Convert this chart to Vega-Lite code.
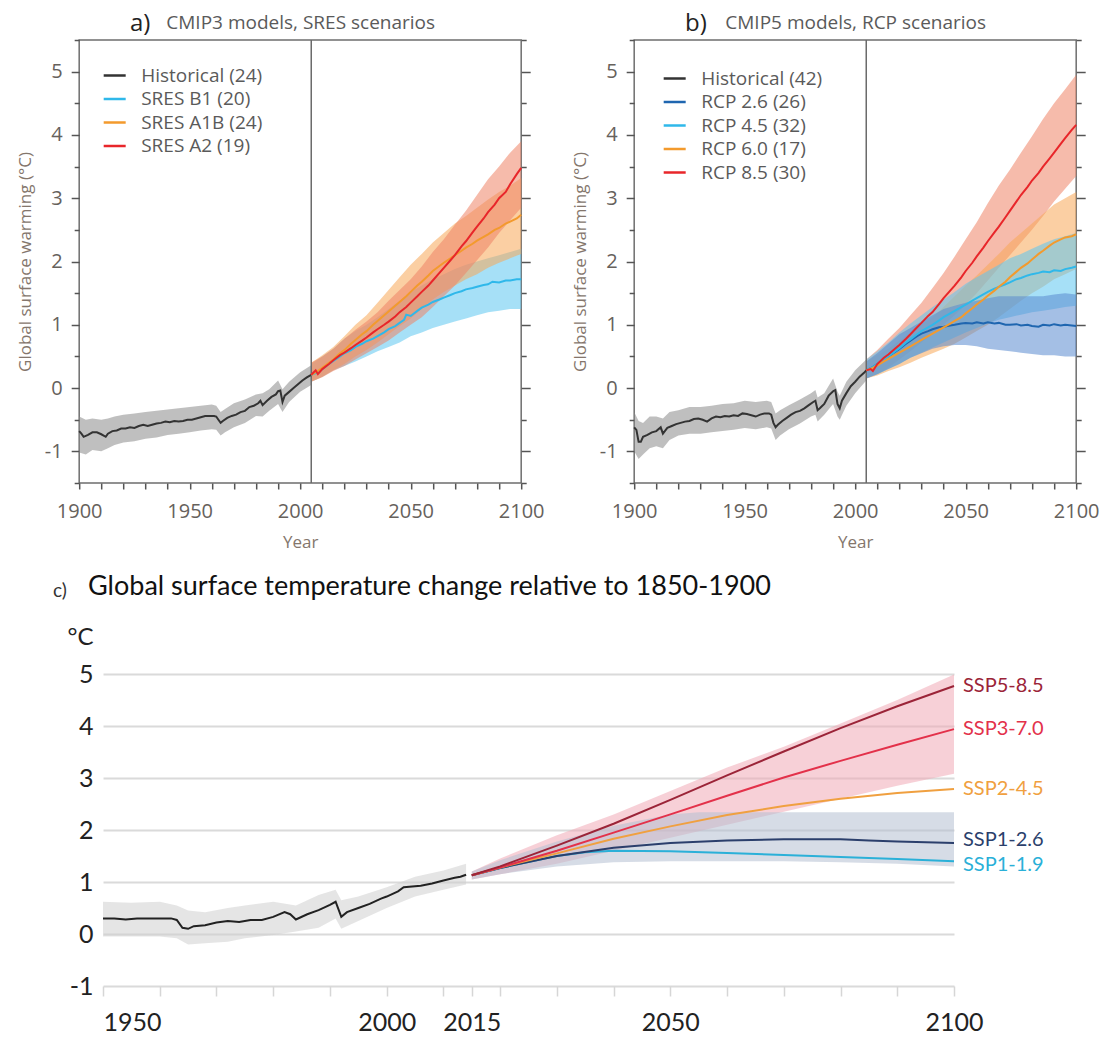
{
"$schema": "https://vega.github.io/schema/vega-lite/v6.json",
"padding": {"left": 15, "top": 10, "right": 0, "bottom": 0},
"background": "white",
"config": {"font": "Open Sans", "view": {"stroke": null}},
"resolve": {"scale": {"fill": "independent", "stroke": "independent", "color": "independent"}},
"datasets": {
"a_bands": [
{"series":"Historical (24)","year":1900,"lo":-1.02,"hi":-0.45},{"series":"Historical (24)","year":1903,"lo":-1.05,"hi":-0.5},{"series":"Historical (24)","year":1906,"lo":-0.98,"hi":-0.48},{"series":"Historical (24)","year":1910,"lo":-1.0,"hi":-0.5},{"series":"Historical (24)","year":1913,"lo":-0.95,"hi":-0.48},{"series":"Historical (24)","year":1916,"lo":-0.9,"hi":-0.45},{"series":"Historical (24)","year":1920,"lo":-0.86,"hi":-0.42},{"series":"Historical (24)","year":1925,"lo":-0.84,"hi":-0.4},{"series":"Historical (24)","year":1930,"lo":-0.8,"hi":-0.38},{"series":"Historical (24)","year":1935,"lo":-0.78,"hi":-0.36},{"series":"Historical (24)","year":1940,"lo":-0.74,"hi":-0.34},{"series":"Historical (24)","year":1945,"lo":-0.72,"hi":-0.32},{"series":"Historical (24)","year":1950,"lo":-0.7,"hi":-0.3},{"series":"Historical (24)","year":1955,"lo":-0.67,"hi":-0.28},{"series":"Historical (24)","year":1960,"lo":-0.65,"hi":-0.26},{"series":"Historical (24)","year":1962,"lo":-0.66,"hi":-0.28},{"series":"Historical (24)","year":1964,"lo":-0.75,"hi":-0.38},{"series":"Historical (24)","year":1966,"lo":-0.7,"hi":-0.33},{"series":"Historical (24)","year":1970,"lo":-0.62,"hi":-0.24},{"series":"Historical (24)","year":1975,"lo":-0.55,"hi":-0.18},{"series":"Historical (24)","year":1980,"lo":-0.44,"hi":-0.1},{"series":"Historical (24)","year":1983,"lo":-0.45,"hi":-0.08},{"series":"Historical (24)","year":1986,"lo":-0.36,"hi":-0.02},{"series":"Historical (24)","year":1990,"lo":-0.25,"hi":0.12},{"series":"Historical (24)","year":1992,"lo":-0.38,"hi":-0.02},{"series":"Historical (24)","year":1995,"lo":-0.22,"hi":0.1},{"series":"Historical (24)","year":2000,"lo":-0.06,"hi":0.25},{"series":"Historical (24)","year":2005,"lo":0.05,"hi":0.36},
{"series":"SRES B1 (20)","year":2005,"lo":0.1,"hi":0.38},{"series":"SRES B1 (20)","year":2010,"lo":0.18,"hi":0.5},{"series":"SRES B1 (20)","year":2015,"lo":0.28,"hi":0.62},{"series":"SRES B1 (20)","year":2020,"lo":0.35,"hi":0.78},{"series":"SRES B1 (20)","year":2025,"lo":0.42,"hi":0.9},{"series":"SRES B1 (20)","year":2030,"lo":0.5,"hi":1.0},{"series":"SRES B1 (20)","year":2035,"lo":0.58,"hi":1.12},{"series":"SRES B1 (20)","year":2040,"lo":0.65,"hi":1.25},{"series":"SRES B1 (20)","year":2045,"lo":0.72,"hi":1.38},{"series":"SRES B1 (20)","year":2050,"lo":0.82,"hi":1.52},{"series":"SRES B1 (20)","year":2055,"lo":0.88,"hi":1.62},{"series":"SRES B1 (20)","year":2060,"lo":0.95,"hi":1.72},{"series":"SRES B1 (20)","year":2065,"lo":1.0,"hi":1.8},{"series":"SRES B1 (20)","year":2070,"lo":1.05,"hi":1.88},{"series":"SRES B1 (20)","year":2075,"lo":1.1,"hi":1.95},{"series":"SRES B1 (20)","year":2080,"lo":1.15,"hi":2.0},{"series":"SRES B1 (20)","year":2085,"lo":1.2,"hi":2.05},{"series":"SRES B1 (20)","year":2090,"lo":1.22,"hi":2.1},{"series":"SRES B1 (20)","year":2095,"lo":1.25,"hi":2.15},{"series":"SRES B1 (20)","year":2100,"lo":1.25,"hi":2.2},
{"series":"SRES A1B (24)","year":2005,"lo":0.1,"hi":0.4},{"series":"SRES A1B (24)","year":2010,"lo":0.18,"hi":0.52},{"series":"SRES A1B (24)","year":2015,"lo":0.28,"hi":0.65},{"series":"SRES A1B (24)","year":2020,"lo":0.38,"hi":0.82},{"series":"SRES A1B (24)","year":2025,"lo":0.5,"hi":1.0},{"series":"SRES A1B (24)","year":2030,"lo":0.6,"hi":1.15},{"series":"SRES A1B (24)","year":2035,"lo":0.72,"hi":1.35},{"series":"SRES A1B (24)","year":2040,"lo":0.85,"hi":1.55},{"series":"SRES A1B (24)","year":2045,"lo":0.98,"hi":1.75},{"series":"SRES A1B (24)","year":2050,"lo":1.1,"hi":1.95},{"series":"SRES A1B (24)","year":2055,"lo":1.25,"hi":2.12},{"series":"SRES A1B (24)","year":2060,"lo":1.4,"hi":2.3},{"series":"SRES A1B (24)","year":2065,"lo":1.52,"hi":2.45},{"series":"SRES A1B (24)","year":2070,"lo":1.62,"hi":2.6},{"series":"SRES A1B (24)","year":2075,"lo":1.72,"hi":2.72},{"series":"SRES A1B (24)","year":2080,"lo":1.8,"hi":2.85},{"series":"SRES A1B (24)","year":2085,"lo":1.9,"hi":2.98},{"series":"SRES A1B (24)","year":2090,"lo":1.98,"hi":3.1},{"series":"SRES A1B (24)","year":2095,"lo":2.05,"hi":3.2},{"series":"SRES A1B (24)","year":2100,"lo":2.12,"hi":3.32},
{"series":"SRES A2 (19)","year":2005,"lo":0.1,"hi":0.4},{"series":"SRES A2 (19)","year":2010,"lo":0.17,"hi":0.5},{"series":"SRES A2 (19)","year":2015,"lo":0.27,"hi":0.62},{"series":"SRES A2 (19)","year":2020,"lo":0.35,"hi":0.78},{"series":"SRES A2 (19)","year":2025,"lo":0.45,"hi":0.92},{"series":"SRES A2 (19)","year":2030,"lo":0.55,"hi":1.05},{"series":"SRES A2 (19)","year":2035,"lo":0.65,"hi":1.2},{"series":"SRES A2 (19)","year":2040,"lo":0.75,"hi":1.38},{"series":"SRES A2 (19)","year":2045,"lo":0.88,"hi":1.55},{"series":"SRES A2 (19)","year":2050,"lo":1.0,"hi":1.72},{"series":"SRES A2 (19)","year":2055,"lo":1.12,"hi":1.92},{"series":"SRES A2 (19)","year":2060,"lo":1.28,"hi":2.15},{"series":"SRES A2 (19)","year":2065,"lo":1.45,"hi":2.35},{"series":"SRES A2 (19)","year":2070,"lo":1.62,"hi":2.58},{"series":"SRES A2 (19)","year":2075,"lo":1.82,"hi":2.8},{"series":"SRES A2 (19)","year":2080,"lo":2.02,"hi":3.05},{"series":"SRES A2 (19)","year":2085,"lo":2.22,"hi":3.3},{"series":"SRES A2 (19)","year":2090,"lo":2.45,"hi":3.5},{"series":"SRES A2 (19)","year":2095,"lo":2.65,"hi":3.72},{"series":"SRES A2 (19)","year":2100,"lo":2.85,"hi":3.9}
],
"a_lines": [
{"series":"Historical (24)","year":1900,"value":-0.68},{"series":"Historical (24)","year":1901,"value":-0.72},{"series":"Historical (24)","year":1902,"value":-0.77},{"series":"Historical (24)","year":1904,"value":-0.74},{"series":"Historical (24)","year":1906,"value":-0.7},{"series":"Historical (24)","year":1908,"value":-0.7},{"series":"Historical (24)","year":1910,"value":-0.73},{"series":"Historical (24)","year":1912,"value":-0.77},{"series":"Historical (24)","year":1913,"value":-0.72},{"series":"Historical (24)","year":1915,"value":-0.68},{"series":"Historical (24)","year":1917,"value":-0.67},{"series":"Historical (24)","year":1919,"value":-0.64},{"series":"Historical (24)","year":1921,"value":-0.64},{"series":"Historical (24)","year":1923,"value":-0.62},{"series":"Historical (24)","year":1925,"value":-0.63},{"series":"Historical (24)","year":1927,"value":-0.6},{"series":"Historical (24)","year":1929,"value":-0.58},{"series":"Historical (24)","year":1931,"value":-0.6},{"series":"Historical (24)","year":1933,"value":-0.58},{"series":"Historical (24)","year":1935,"value":-0.56},{"series":"Historical (24)","year":1937,"value":-0.55},{"series":"Historical (24)","year":1939,"value":-0.53},{"series":"Historical (24)","year":1941,"value":-0.54},{"series":"Historical (24)","year":1943,"value":-0.52},{"series":"Historical (24)","year":1945,"value":-0.53},{"series":"Historical (24)","year":1947,"value":-0.52},{"series":"Historical (24)","year":1949,"value":-0.5},{"series":"Historical (24)","year":1951,"value":-0.5},{"series":"Historical (24)","year":1953,"value":-0.48},{"series":"Historical (24)","year":1955,"value":-0.46},{"series":"Historical (24)","year":1957,"value":-0.44},{"series":"Historical (24)","year":1959,"value":-0.44},{"series":"Historical (24)","year":1961,"value":-0.44},{"series":"Historical (24)","year":1962,"value":-0.45},{"series":"Historical (24)","year":1963,"value":-0.5},{"series":"Historical (24)","year":1964,"value":-0.55},{"series":"Historical (24)","year":1965,"value":-0.52},{"series":"Historical (24)","year":1967,"value":-0.47},{"series":"Historical (24)","year":1969,"value":-0.44},{"series":"Historical (24)","year":1971,"value":-0.42},{"series":"Historical (24)","year":1973,"value":-0.38},{"series":"Historical (24)","year":1975,"value":-0.36},{"series":"Historical (24)","year":1977,"value":-0.3},{"series":"Historical (24)","year":1979,"value":-0.28},{"series":"Historical (24)","year":1981,"value":-0.24},{"series":"Historical (24)","year":1982,"value":-0.2},{"series":"Historical (24)","year":1983,"value":-0.27},{"series":"Historical (24)","year":1985,"value":-0.2},{"series":"Historical (24)","year":1987,"value":-0.14},{"series":"Historical (24)","year":1989,"value":-0.1},{"series":"Historical (24)","year":1990,"value":-0.05},{"series":"Historical (24)","year":1991,"value":-0.04},{"series":"Historical (24)","year":1992,"value":-0.22},{"series":"Historical (24)","year":1993,"value":-0.12},{"series":"Historical (24)","year":1995,"value":-0.06},{"series":"Historical (24)","year":1997,"value":0.0},{"series":"Historical (24)","year":1999,"value":0.06},{"series":"Historical (24)","year":2001,"value":0.12},{"series":"Historical (24)","year":2003,"value":0.17},{"series":"Historical (24)","year":2005,"value":0.21},
{"series":"SRES B1 (20)","year":2005,"value":0.21},{"series":"SRES B1 (20)","year":2008,"value":0.25},{"series":"SRES B1 (20)","year":2010,"value":0.3},{"series":"SRES B1 (20)","year":2013,"value":0.38},{"series":"SRES B1 (20)","year":2015,"value":0.43},{"series":"SRES B1 (20)","year":2018,"value":0.5},{"series":"SRES B1 (20)","year":2020,"value":0.55},{"series":"SRES B1 (20)","year":2023,"value":0.6},{"series":"SRES B1 (20)","year":2025,"value":0.65},{"series":"SRES B1 (20)","year":2028,"value":0.7},{"series":"SRES B1 (20)","year":2030,"value":0.74},{"series":"SRES B1 (20)","year":2033,"value":0.78},{"series":"SRES B1 (20)","year":2035,"value":0.82},{"series":"SRES B1 (20)","year":2038,"value":0.88},{"series":"SRES B1 (20)","year":2040,"value":0.93},{"series":"SRES B1 (20)","year":2043,"value":0.98},{"series":"SRES B1 (20)","year":2045,"value":1.03},{"series":"SRES B1 (20)","year":2047,"value":1.08},{"series":"SRES B1 (20)","year":2048,"value":1.16},{"series":"SRES B1 (20)","year":2050,"value":1.14},{"series":"SRES B1 (20)","year":2053,"value":1.22},{"series":"SRES B1 (20)","year":2055,"value":1.27},{"series":"SRES B1 (20)","year":2058,"value":1.32},{"series":"SRES B1 (20)","year":2060,"value":1.36},{"series":"SRES B1 (20)","year":2063,"value":1.4},{"series":"SRES B1 (20)","year":2065,"value":1.43},{"series":"SRES B1 (20)","year":2068,"value":1.47},{"series":"SRES B1 (20)","year":2070,"value":1.5},{"series":"SRES B1 (20)","year":2073,"value":1.53},{"series":"SRES B1 (20)","year":2075,"value":1.56},{"series":"SRES B1 (20)","year":2078,"value":1.58},{"series":"SRES B1 (20)","year":2080,"value":1.6},{"series":"SRES B1 (20)","year":2083,"value":1.63},{"series":"SRES B1 (20)","year":2085,"value":1.64},{"series":"SRES B1 (20)","year":2087,"value":1.68},{"series":"SRES B1 (20)","year":2090,"value":1.67},{"series":"SRES B1 (20)","year":2093,"value":1.7},{"series":"SRES B1 (20)","year":2095,"value":1.7},{"series":"SRES B1 (20)","year":2098,"value":1.72},{"series":"SRES B1 (20)","year":2100,"value":1.72},
{"series":"SRES A1B (24)","year":2005,"value":0.21},{"series":"SRES A1B (24)","year":2008,"value":0.27},{"series":"SRES A1B (24)","year":2010,"value":0.32},{"series":"SRES A1B (24)","year":2013,"value":0.4},{"series":"SRES A1B (24)","year":2015,"value":0.45},{"series":"SRES A1B (24)","year":2018,"value":0.55},{"series":"SRES A1B (24)","year":2020,"value":0.6},{"series":"SRES A1B (24)","year":2023,"value":0.7},{"series":"SRES A1B (24)","year":2025,"value":0.76},{"series":"SRES A1B (24)","year":2028,"value":0.85},{"series":"SRES A1B (24)","year":2030,"value":0.9},{"series":"SRES A1B (24)","year":2033,"value":1.0},{"series":"SRES A1B (24)","year":2035,"value":1.06},{"series":"SRES A1B (24)","year":2038,"value":1.15},{"series":"SRES A1B (24)","year":2040,"value":1.21},{"series":"SRES A1B (24)","year":2043,"value":1.3},{"series":"SRES A1B (24)","year":2045,"value":1.36},{"series":"SRES A1B (24)","year":2048,"value":1.45},{"series":"SRES A1B (24)","year":2050,"value":1.52},{"series":"SRES A1B (24)","year":2053,"value":1.62},{"series":"SRES A1B (24)","year":2055,"value":1.68},{"series":"SRES A1B (24)","year":2058,"value":1.78},{"series":"SRES A1B (24)","year":2060,"value":1.85},{"series":"SRES A1B (24)","year":2063,"value":1.93},{"series":"SRES A1B (24)","year":2065,"value":1.98},{"series":"SRES A1B (24)","year":2068,"value":2.05},{"series":"SRES A1B (24)","year":2070,"value":2.1},{"series":"SRES A1B (24)","year":2073,"value":2.17},{"series":"SRES A1B (24)","year":2075,"value":2.22},{"series":"SRES A1B (24)","year":2078,"value":2.28},{"series":"SRES A1B (24)","year":2080,"value":2.33},{"series":"SRES A1B (24)","year":2083,"value":2.39},{"series":"SRES A1B (24)","year":2085,"value":2.43},{"series":"SRES A1B (24)","year":2088,"value":2.5},{"series":"SRES A1B (24)","year":2090,"value":2.53},{"series":"SRES A1B (24)","year":2093,"value":2.6},{"series":"SRES A1B (24)","year":2095,"value":2.63},{"series":"SRES A1B (24)","year":2098,"value":2.68},{"series":"SRES A1B (24)","year":2100,"value":2.74},
{"series":"SRES A2 (19)","year":2005,"value":0.21},{"series":"SRES A2 (19)","year":2007,"value":0.28},{"series":"SRES A2 (19)","year":2008,"value":0.22},{"series":"SRES A2 (19)","year":2010,"value":0.3},{"series":"SRES A2 (19)","year":2013,"value":0.38},{"series":"SRES A2 (19)","year":2015,"value":0.44},{"series":"SRES A2 (19)","year":2018,"value":0.52},{"series":"SRES A2 (19)","year":2020,"value":0.56},{"series":"SRES A2 (19)","year":2023,"value":0.63},{"series":"SRES A2 (19)","year":2025,"value":0.68},{"series":"SRES A2 (19)","year":2028,"value":0.75},{"series":"SRES A2 (19)","year":2030,"value":0.8},{"series":"SRES A2 (19)","year":2033,"value":0.88},{"series":"SRES A2 (19)","year":2035,"value":0.93},{"series":"SRES A2 (19)","year":2038,"value":1.0},{"series":"SRES A2 (19)","year":2040,"value":1.05},{"series":"SRES A2 (19)","year":2043,"value":1.13},{"series":"SRES A2 (19)","year":2045,"value":1.2},{"series":"SRES A2 (19)","year":2048,"value":1.28},{"series":"SRES A2 (19)","year":2050,"value":1.35},{"series":"SRES A2 (19)","year":2053,"value":1.45},{"series":"SRES A2 (19)","year":2055,"value":1.52},{"series":"SRES A2 (19)","year":2058,"value":1.62},{"series":"SRES A2 (19)","year":2060,"value":1.7},{"series":"SRES A2 (19)","year":2063,"value":1.82},{"series":"SRES A2 (19)","year":2065,"value":1.9},{"series":"SRES A2 (19)","year":2068,"value":2.02},{"series":"SRES A2 (19)","year":2070,"value":2.1},{"series":"SRES A2 (19)","year":2073,"value":2.24},{"series":"SRES A2 (19)","year":2075,"value":2.32},{"series":"SRES A2 (19)","year":2078,"value":2.46},{"series":"SRES A2 (19)","year":2080,"value":2.55},{"series":"SRES A2 (19)","year":2083,"value":2.68},{"series":"SRES A2 (19)","year":2085,"value":2.78},{"series":"SRES A2 (19)","year":2088,"value":2.9},{"series":"SRES A2 (19)","year":2090,"value":3.0},{"series":"SRES A2 (19)","year":2093,"value":3.1},{"series":"SRES A2 (19)","year":2095,"value":3.22},{"series":"SRES A2 (19)","year":2098,"value":3.38},{"series":"SRES A2 (19)","year":2100,"value":3.48}
],
"b_bands": [
{"series":"Historical (42)","year":1900,"lo":-1.0,"hi":-0.38},{"series":"Historical (42)","year":1902,"lo":-1.12,"hi":-0.52},{"series":"Historical (42)","year":1904,"lo":-1.05,"hi":-0.55},{"series":"Historical (42)","year":1907,"lo":-0.95,"hi":-0.45},{"series":"Historical (42)","year":1910,"lo":-0.92,"hi":-0.45},{"series":"Historical (42)","year":1913,"lo":-0.95,"hi":-0.48},{"series":"Historical (42)","year":1916,"lo":-0.82,"hi":-0.38},{"series":"Historical (42)","year":1920,"lo":-0.75,"hi":-0.35},{"series":"Historical (42)","year":1925,"lo":-0.72,"hi":-0.3},{"series":"Historical (42)","year":1930,"lo":-0.72,"hi":-0.3},{"series":"Historical (42)","year":1935,"lo":-0.7,"hi":-0.28},{"series":"Historical (42)","year":1940,"lo":-0.68,"hi":-0.25},{"series":"Historical (42)","year":1945,"lo":-0.66,"hi":-0.24},{"series":"Historical (42)","year":1950,"lo":-0.63,"hi":-0.2},{"series":"Historical (42)","year":1955,"lo":-0.65,"hi":-0.22},{"series":"Historical (42)","year":1960,"lo":-0.62,"hi":-0.2},{"series":"Historical (42)","year":1962,"lo":-0.64,"hi":-0.22},{"series":"Historical (42)","year":1964,"lo":-0.82,"hi":-0.4},{"series":"Historical (42)","year":1966,"lo":-0.75,"hi":-0.35},{"series":"Historical (42)","year":1970,"lo":-0.65,"hi":-0.27},{"series":"Historical (42)","year":1975,"lo":-0.56,"hi":-0.18},{"series":"Historical (42)","year":1980,"lo":-0.45,"hi":-0.08},{"series":"Historical (42)","year":1982,"lo":-0.42,"hi":-0.03},{"series":"Historical (42)","year":1983,"lo":-0.53,"hi":-0.15},{"series":"Historical (42)","year":1986,"lo":-0.42,"hi":-0.08},{"series":"Historical (42)","year":1990,"lo":-0.25,"hi":0.15},{"series":"Historical (42)","year":1992,"lo":-0.45,"hi":-0.06},{"series":"Historical (42)","year":1993,"lo":-0.5,"hi":-0.12},{"series":"Historical (42)","year":1996,"lo":-0.28,"hi":0.1},{"series":"Historical (42)","year":2000,"lo":-0.08,"hi":0.28},{"series":"Historical (42)","year":2005,"lo":0.12,"hi":0.45},
{"series":"RCP 8.5 (30)","year":2005,"lo":0.15,"hi":0.45},{"series":"RCP 8.5 (30)","year":2010,"lo":0.22,"hi":0.6},{"series":"RCP 8.5 (30)","year":2015,"lo":0.32,"hi":0.78},{"series":"RCP 8.5 (30)","year":2020,"lo":0.45,"hi":0.95},{"series":"RCP 8.5 (30)","year":2025,"lo":0.58,"hi":1.15},{"series":"RCP 8.5 (30)","year":2030,"lo":0.72,"hi":1.35},{"series":"RCP 8.5 (30)","year":2035,"lo":0.85,"hi":1.58},{"series":"RCP 8.5 (30)","year":2040,"lo":1.0,"hi":1.82},{"series":"RCP 8.5 (30)","year":2045,"lo":1.15,"hi":2.08},{"series":"RCP 8.5 (30)","year":2050,"lo":1.32,"hi":2.35},{"series":"RCP 8.5 (30)","year":2055,"lo":1.5,"hi":2.62},{"series":"RCP 8.5 (30)","year":2060,"lo":1.7,"hi":2.92},{"series":"RCP 8.5 (30)","year":2065,"lo":1.9,"hi":3.2},{"series":"RCP 8.5 (30)","year":2070,"lo":2.1,"hi":3.45},{"series":"RCP 8.5 (30)","year":2075,"lo":2.3,"hi":3.72},{"series":"RCP 8.5 (30)","year":2080,"lo":2.5,"hi":3.98},{"series":"RCP 8.5 (30)","year":2085,"lo":2.72,"hi":4.25},{"series":"RCP 8.5 (30)","year":2090,"lo":2.95,"hi":4.5},{"series":"RCP 8.5 (30)","year":2095,"lo":3.15,"hi":4.72},{"series":"RCP 8.5 (30)","year":2100,"lo":3.35,"hi":4.95},
{"series":"RCP 6.0 (17)","year":2005,"lo":0.15,"hi":0.42},{"series":"RCP 6.0 (17)","year":2010,"lo":0.2,"hi":0.52},{"series":"RCP 6.0 (17)","year":2015,"lo":0.27,"hi":0.62},{"series":"RCP 6.0 (17)","year":2020,"lo":0.33,"hi":0.75},{"series":"RCP 6.0 (17)","year":2025,"lo":0.4,"hi":0.88},{"series":"RCP 6.0 (17)","year":2030,"lo":0.48,"hi":1.0},{"series":"RCP 6.0 (17)","year":2035,"lo":0.55,"hi":1.12},{"series":"RCP 6.0 (17)","year":2040,"lo":0.62,"hi":1.28},{"series":"RCP 6.0 (17)","year":2045,"lo":0.7,"hi":1.45},{"series":"RCP 6.0 (17)","year":2050,"lo":0.8,"hi":1.62},{"series":"RCP 6.0 (17)","year":2055,"lo":0.9,"hi":1.78},{"series":"RCP 6.0 (17)","year":2060,"lo":1.0,"hi":1.95},{"series":"RCP 6.0 (17)","year":2065,"lo":1.12,"hi":2.12},{"series":"RCP 6.0 (17)","year":2070,"lo":1.25,"hi":2.3},{"series":"RCP 6.0 (17)","year":2075,"lo":1.38,"hi":2.45},{"series":"RCP 6.0 (17)","year":2080,"lo":1.5,"hi":2.6},{"series":"RCP 6.0 (17)","year":2085,"lo":1.6,"hi":2.75},{"series":"RCP 6.0 (17)","year":2090,"lo":1.72,"hi":2.9},{"series":"RCP 6.0 (17)","year":2095,"lo":1.8,"hi":3.0},{"series":"RCP 6.0 (17)","year":2100,"lo":1.88,"hi":3.1},
{"series":"RCP 4.5 (32)","year":2005,"lo":0.15,"hi":0.45},{"series":"RCP 4.5 (32)","year":2010,"lo":0.22,"hi":0.58},{"series":"RCP 4.5 (32)","year":2015,"lo":0.3,"hi":0.72},{"series":"RCP 4.5 (32)","year":2020,"lo":0.38,"hi":0.88},{"series":"RCP 4.5 (32)","year":2025,"lo":0.48,"hi":1.02},{"series":"RCP 4.5 (32)","year":2030,"lo":0.56,"hi":1.15},{"series":"RCP 4.5 (32)","year":2035,"lo":0.64,"hi":1.28},{"series":"RCP 4.5 (32)","year":2040,"lo":0.72,"hi":1.4},{"series":"RCP 4.5 (32)","year":2045,"lo":0.8,"hi":1.52},{"series":"RCP 4.5 (32)","year":2050,"lo":0.88,"hi":1.65},{"series":"RCP 4.5 (32)","year":2055,"lo":0.95,"hi":1.75},{"series":"RCP 4.5 (32)","year":2060,"lo":1.02,"hi":1.85},{"series":"RCP 4.5 (32)","year":2065,"lo":1.08,"hi":1.95},{"series":"RCP 4.5 (32)","year":2070,"lo":1.12,"hi":2.05},{"series":"RCP 4.5 (32)","year":2075,"lo":1.16,"hi":2.12},{"series":"RCP 4.5 (32)","year":2080,"lo":1.2,"hi":2.2},{"series":"RCP 4.5 (32)","year":2085,"lo":1.22,"hi":2.28},{"series":"RCP 4.5 (32)","year":2090,"lo":1.25,"hi":2.35},{"series":"RCP 4.5 (32)","year":2095,"lo":1.28,"hi":2.4},{"series":"RCP 4.5 (32)","year":2100,"lo":1.3,"hi":2.45},
{"series":"RCP 2.6 (26)","year":2005,"lo":0.15,"hi":0.42},{"series":"RCP 2.6 (26)","year":2010,"lo":0.22,"hi":0.55},{"series":"RCP 2.6 (26)","year":2015,"lo":0.3,"hi":0.7},{"series":"RCP 2.6 (26)","year":2020,"lo":0.38,"hi":0.85},{"series":"RCP 2.6 (26)","year":2025,"lo":0.48,"hi":0.95},{"series":"RCP 2.6 (26)","year":2030,"lo":0.55,"hi":1.05},{"series":"RCP 2.6 (26)","year":2035,"lo":0.62,"hi":1.15},{"series":"RCP 2.6 (26)","year":2040,"lo":0.66,"hi":1.25},{"series":"RCP 2.6 (26)","year":2045,"lo":0.68,"hi":1.3},{"series":"RCP 2.6 (26)","year":2050,"lo":0.68,"hi":1.35},{"series":"RCP 2.6 (26)","year":2055,"lo":0.66,"hi":1.38},{"series":"RCP 2.6 (26)","year":2060,"lo":0.62,"hi":1.42},{"series":"RCP 2.6 (26)","year":2065,"lo":0.6,"hi":1.45},{"series":"RCP 2.6 (26)","year":2070,"lo":0.58,"hi":1.45},{"series":"RCP 2.6 (26)","year":2075,"lo":0.56,"hi":1.45},{"series":"RCP 2.6 (26)","year":2080,"lo":0.54,"hi":1.45},{"series":"RCP 2.6 (26)","year":2085,"lo":0.52,"hi":1.45},{"series":"RCP 2.6 (26)","year":2090,"lo":0.52,"hi":1.48},{"series":"RCP 2.6 (26)","year":2095,"lo":0.5,"hi":1.5},{"series":"RCP 2.6 (26)","year":2100,"lo":0.5,"hi":1.48}
],
"b_lines": [
{"series":"Historical (42)","year":1900,"value":-0.62},{"series":"Historical (42)","year":1901,"value":-0.66},{"series":"Historical (42)","year":1902,"value":-0.85},{"series":"Historical (42)","year":1903,"value":-0.85},{"series":"Historical (42)","year":1904,"value":-0.77},{"series":"Historical (42)","year":1906,"value":-0.74},{"series":"Historical (42)","year":1908,"value":-0.7},{"series":"Historical (42)","year":1910,"value":-0.68},{"series":"Historical (42)","year":1912,"value":-0.62},{"series":"Historical (42)","year":1913,"value":-0.72},{"series":"Historical (42)","year":1915,"value":-0.63},{"series":"Historical (42)","year":1917,"value":-0.6},{"series":"Historical (42)","year":1919,"value":-0.57},{"series":"Historical (42)","year":1921,"value":-0.55},{"series":"Historical (42)","year":1923,"value":-0.53},{"series":"Historical (42)","year":1925,"value":-0.52},{"series":"Historical (42)","year":1927,"value":-0.49},{"series":"Historical (42)","year":1929,"value":-0.48},{"series":"Historical (42)","year":1931,"value":-0.5},{"series":"Historical (42)","year":1933,"value":-0.53},{"series":"Historical (42)","year":1935,"value":-0.48},{"series":"Historical (42)","year":1937,"value":-0.45},{"series":"Historical (42)","year":1939,"value":-0.46},{"series":"Historical (42)","year":1941,"value":-0.44},{"series":"Historical (42)","year":1943,"value":-0.45},{"series":"Historical (42)","year":1945,"value":-0.43},{"series":"Historical (42)","year":1947,"value":-0.44},{"series":"Historical (42)","year":1949,"value":-0.4},{"series":"Historical (42)","year":1951,"value":-0.41},{"series":"Historical (42)","year":1953,"value":-0.43},{"series":"Historical (42)","year":1955,"value":-0.45},{"series":"Historical (42)","year":1957,"value":-0.42},{"series":"Historical (42)","year":1959,"value":-0.4},{"series":"Historical (42)","year":1961,"value":-0.4},{"series":"Historical (42)","year":1962,"value":-0.42},{"series":"Historical (42)","year":1963,"value":-0.55},{"series":"Historical (42)","year":1964,"value":-0.62},{"series":"Historical (42)","year":1965,"value":-0.58},{"series":"Historical (42)","year":1967,"value":-0.52},{"series":"Historical (42)","year":1969,"value":-0.47},{"series":"Historical (42)","year":1971,"value":-0.42},{"series":"Historical (42)","year":1973,"value":-0.38},{"series":"Historical (42)","year":1975,"value":-0.36},{"series":"Historical (42)","year":1977,"value":-0.32},{"series":"Historical (42)","year":1979,"value":-0.27},{"series":"Historical (42)","year":1981,"value":-0.22},{"series":"Historical (42)","year":1982,"value":-0.2},{"series":"Historical (42)","year":1983,"value":-0.35},{"series":"Historical (42)","year":1984,"value":-0.32},{"series":"Historical (42)","year":1986,"value":-0.25},{"series":"Historical (42)","year":1988,"value":-0.12},{"series":"Historical (42)","year":1990,"value":-0.05},{"series":"Historical (42)","year":1991,"value":-0.03},{"series":"Historical (42)","year":1992,"value":-0.25},{"series":"Historical (42)","year":1993,"value":-0.32},{"series":"Historical (42)","year":1994,"value":-0.2},{"series":"Historical (42)","year":1996,"value":-0.08},{"series":"Historical (42)","year":1998,"value":0.03},{"series":"Historical (42)","year":2000,"value":0.1},{"series":"Historical (42)","year":2002,"value":0.18},{"series":"Historical (42)","year":2004,"value":0.24},{"series":"Historical (42)","year":2005,"value":0.28},
{"series":"RCP 2.6 (26)","year":2005,"value":0.28},{"series":"RCP 2.6 (26)","year":2008,"value":0.33},{"series":"RCP 2.6 (26)","year":2010,"value":0.38},{"series":"RCP 2.6 (26)","year":2013,"value":0.45},{"series":"RCP 2.6 (26)","year":2015,"value":0.5},{"series":"RCP 2.6 (26)","year":2018,"value":0.57},{"series":"RCP 2.6 (26)","year":2020,"value":0.62},{"series":"RCP 2.6 (26)","year":2023,"value":0.7},{"series":"RCP 2.6 (26)","year":2025,"value":0.75},{"series":"RCP 2.6 (26)","year":2028,"value":0.82},{"series":"RCP 2.6 (26)","year":2030,"value":0.86},{"series":"RCP 2.6 (26)","year":2033,"value":0.9},{"series":"RCP 2.6 (26)","year":2035,"value":0.93},{"series":"RCP 2.6 (26)","year":2038,"value":0.96},{"series":"RCP 2.6 (26)","year":2040,"value":0.97},{"series":"RCP 2.6 (26)","year":2043,"value":0.99},{"series":"RCP 2.6 (26)","year":2045,"value":1.0},{"series":"RCP 2.6 (26)","year":2048,"value":1.02},{"series":"RCP 2.6 (26)","year":2050,"value":1.03},{"series":"RCP 2.6 (26)","year":2053,"value":1.02},{"series":"RCP 2.6 (26)","year":2055,"value":1.04},{"series":"RCP 2.6 (26)","year":2058,"value":1.02},{"series":"RCP 2.6 (26)","year":2060,"value":1.04},{"series":"RCP 2.6 (26)","year":2063,"value":1.02},{"series":"RCP 2.6 (26)","year":2065,"value":1.03},{"series":"RCP 2.6 (26)","year":2068,"value":1.0},{"series":"RCP 2.6 (26)","year":2070,"value":1.0},{"series":"RCP 2.6 (26)","year":2073,"value":1.01},{"series":"RCP 2.6 (26)","year":2075,"value":0.99},{"series":"RCP 2.6 (26)","year":2078,"value":1.0},{"series":"RCP 2.6 (26)","year":2080,"value":0.98},{"series":"RCP 2.6 (26)","year":2083,"value":0.97},{"series":"RCP 2.6 (26)","year":2085,"value":1.0},{"series":"RCP 2.6 (26)","year":2088,"value":0.99},{"series":"RCP 2.6 (26)","year":2090,"value":1.01},{"series":"RCP 2.6 (26)","year":2093,"value":0.99},{"series":"RCP 2.6 (26)","year":2095,"value":1.0},{"series":"RCP 2.6 (26)","year":2098,"value":0.99},{"series":"RCP 2.6 (26)","year":2100,"value":0.98},
{"series":"RCP 4.5 (32)","year":2005,"value":0.28},{"series":"RCP 4.5 (32)","year":2008,"value":0.33},{"series":"RCP 4.5 (32)","year":2010,"value":0.38},{"series":"RCP 4.5 (32)","year":2013,"value":0.45},{"series":"RCP 4.5 (32)","year":2015,"value":0.5},{"series":"RCP 4.5 (32)","year":2018,"value":0.58},{"series":"RCP 4.5 (32)","year":2020,"value":0.63},{"series":"RCP 4.5 (32)","year":2023,"value":0.72},{"series":"RCP 4.5 (32)","year":2025,"value":0.77},{"series":"RCP 4.5 (32)","year":2028,"value":0.85},{"series":"RCP 4.5 (32)","year":2030,"value":0.9},{"series":"RCP 4.5 (32)","year":2033,"value":0.96},{"series":"RCP 4.5 (32)","year":2035,"value":1.0},{"series":"RCP 4.5 (32)","year":2038,"value":1.07},{"series":"RCP 4.5 (32)","year":2040,"value":1.12},{"series":"RCP 4.5 (32)","year":2043,"value":1.18},{"series":"RCP 4.5 (32)","year":2045,"value":1.22},{"series":"RCP 4.5 (32)","year":2048,"value":1.28},{"series":"RCP 4.5 (32)","year":2050,"value":1.32},{"series":"RCP 4.5 (32)","year":2053,"value":1.38},{"series":"RCP 4.5 (32)","year":2055,"value":1.42},{"series":"RCP 4.5 (32)","year":2058,"value":1.48},{"series":"RCP 4.5 (32)","year":2060,"value":1.52},{"series":"RCP 4.5 (32)","year":2063,"value":1.57},{"series":"RCP 4.5 (32)","year":2065,"value":1.6},{"series":"RCP 4.5 (32)","year":2068,"value":1.64},{"series":"RCP 4.5 (32)","year":2070,"value":1.67},{"series":"RCP 4.5 (32)","year":2073,"value":1.72},{"series":"RCP 4.5 (32)","year":2075,"value":1.74},{"series":"RCP 4.5 (32)","year":2078,"value":1.78},{"series":"RCP 4.5 (32)","year":2080,"value":1.8},{"series":"RCP 4.5 (32)","year":2083,"value":1.82},{"series":"RCP 4.5 (32)","year":2085,"value":1.84},{"series":"RCP 4.5 (32)","year":2088,"value":1.83},{"series":"RCP 4.5 (32)","year":2090,"value":1.86},{"series":"RCP 4.5 (32)","year":2093,"value":1.85},{"series":"RCP 4.5 (32)","year":2095,"value":1.88},{"series":"RCP 4.5 (32)","year":2098,"value":1.9},{"series":"RCP 4.5 (32)","year":2100,"value":1.92},
{"series":"RCP 6.0 (17)","year":2005,"value":0.28},{"series":"RCP 6.0 (17)","year":2008,"value":0.32},{"series":"RCP 6.0 (17)","year":2010,"value":0.36},{"series":"RCP 6.0 (17)","year":2013,"value":0.42},{"series":"RCP 6.0 (17)","year":2015,"value":0.46},{"series":"RCP 6.0 (17)","year":2018,"value":0.52},{"series":"RCP 6.0 (17)","year":2020,"value":0.56},{"series":"RCP 6.0 (17)","year":2023,"value":0.62},{"series":"RCP 6.0 (17)","year":2025,"value":0.66},{"series":"RCP 6.0 (17)","year":2028,"value":0.72},{"series":"RCP 6.0 (17)","year":2030,"value":0.76},{"series":"RCP 6.0 (17)","year":2033,"value":0.82},{"series":"RCP 6.0 (17)","year":2035,"value":0.86},{"series":"RCP 6.0 (17)","year":2038,"value":0.92},{"series":"RCP 6.0 (17)","year":2040,"value":0.96},{"series":"RCP 6.0 (17)","year":2043,"value":1.02},{"series":"RCP 6.0 (17)","year":2045,"value":1.06},{"series":"RCP 6.0 (17)","year":2048,"value":1.12},{"series":"RCP 6.0 (17)","year":2050,"value":1.18},{"series":"RCP 6.0 (17)","year":2053,"value":1.26},{"series":"RCP 6.0 (17)","year":2055,"value":1.32},{"series":"RCP 6.0 (17)","year":2058,"value":1.4},{"series":"RCP 6.0 (17)","year":2060,"value":1.46},{"series":"RCP 6.0 (17)","year":2063,"value":1.54},{"series":"RCP 6.0 (17)","year":2065,"value":1.6},{"series":"RCP 6.0 (17)","year":2068,"value":1.68},{"series":"RCP 6.0 (17)","year":2070,"value":1.75},{"series":"RCP 6.0 (17)","year":2073,"value":1.84},{"series":"RCP 6.0 (17)","year":2075,"value":1.9},{"series":"RCP 6.0 (17)","year":2078,"value":1.97},{"series":"RCP 6.0 (17)","year":2080,"value":2.03},{"series":"RCP 6.0 (17)","year":2083,"value":2.12},{"series":"RCP 6.0 (17)","year":2085,"value":2.17},{"series":"RCP 6.0 (17)","year":2088,"value":2.25},{"series":"RCP 6.0 (17)","year":2090,"value":2.3},{"series":"RCP 6.0 (17)","year":2093,"value":2.35},{"series":"RCP 6.0 (17)","year":2095,"value":2.38},{"series":"RCP 6.0 (17)","year":2098,"value":2.4},{"series":"RCP 6.0 (17)","year":2100,"value":2.43},
{"series":"RCP 8.5 (30)","year":2005,"value":0.28},{"series":"RCP 8.5 (30)","year":2007,"value":0.3},{"series":"RCP 8.5 (30)","year":2008,"value":0.27},{"series":"RCP 8.5 (30)","year":2010,"value":0.38},{"series":"RCP 8.5 (30)","year":2013,"value":0.48},{"series":"RCP 8.5 (30)","year":2015,"value":0.53},{"series":"RCP 8.5 (30)","year":2018,"value":0.62},{"series":"RCP 8.5 (30)","year":2020,"value":0.68},{"series":"RCP 8.5 (30)","year":2023,"value":0.78},{"series":"RCP 8.5 (30)","year":2025,"value":0.85},{"series":"RCP 8.5 (30)","year":2028,"value":0.96},{"series":"RCP 8.5 (30)","year":2030,"value":1.03},{"series":"RCP 8.5 (30)","year":2033,"value":1.14},{"series":"RCP 8.5 (30)","year":2035,"value":1.2},{"series":"RCP 8.5 (30)","year":2038,"value":1.33},{"series":"RCP 8.5 (30)","year":2040,"value":1.42},{"series":"RCP 8.5 (30)","year":2043,"value":1.54},{"series":"RCP 8.5 (30)","year":2045,"value":1.62},{"series":"RCP 8.5 (30)","year":2048,"value":1.75},{"series":"RCP 8.5 (30)","year":2050,"value":1.85},{"series":"RCP 8.5 (30)","year":2053,"value":1.98},{"series":"RCP 8.5 (30)","year":2055,"value":2.08},{"series":"RCP 8.5 (30)","year":2058,"value":2.22},{"series":"RCP 8.5 (30)","year":2060,"value":2.32},{"series":"RCP 8.5 (30)","year":2063,"value":2.46},{"series":"RCP 8.5 (30)","year":2065,"value":2.55},{"series":"RCP 8.5 (30)","year":2068,"value":2.7},{"series":"RCP 8.5 (30)","year":2070,"value":2.8},{"series":"RCP 8.5 (30)","year":2073,"value":2.95},{"series":"RCP 8.5 (30)","year":2075,"value":3.05},{"series":"RCP 8.5 (30)","year":2078,"value":3.18},{"series":"RCP 8.5 (30)","year":2080,"value":3.28},{"series":"RCP 8.5 (30)","year":2083,"value":3.4},{"series":"RCP 8.5 (30)","year":2085,"value":3.5},{"series":"RCP 8.5 (30)","year":2088,"value":3.63},{"series":"RCP 8.5 (30)","year":2090,"value":3.72},{"series":"RCP 8.5 (30)","year":2093,"value":3.86},{"series":"RCP 8.5 (30)","year":2095,"value":3.95},{"series":"RCP 8.5 (30)","year":2098,"value":4.08},{"series":"RCP 8.5 (30)","year":2100,"value":4.16}
],
"c_bands": [
{"series":"Historical","year":1950,"lo":-0.05,"hi":0.62},{"series":"Historical","year":1955,"lo":-0.05,"hi":0.6},{"series":"Historical","year":1960,"lo":-0.05,"hi":0.62},{"series":"Historical","year":1963,"lo":-0.08,"hi":0.55},{"series":"Historical","year":1965,"lo":-0.2,"hi":0.45},{"series":"Historical","year":1968,"lo":-0.18,"hi":0.42},{"series":"Historical","year":1972,"lo":-0.15,"hi":0.5},{"series":"Historical","year":1975,"lo":-0.08,"hi":0.55},{"series":"Historical","year":1980,"lo":-0.02,"hi":0.62},{"series":"Historical","year":1984,"lo":0.05,"hi":0.55},{"series":"Historical","year":1988,"lo":0.12,"hi":0.75},{"series":"Historical","year":1991,"lo":0.3,"hi":0.85},{"series":"Historical","year":1992,"lo":0.1,"hi":0.65},{"series":"Historical","year":1995,"lo":0.25,"hi":0.72},{"series":"Historical","year":2000,"lo":0.5,"hi":0.9},{"series":"Historical","year":2005,"lo":0.72,"hi":1.1},{"series":"Historical","year":2010,"lo":0.85,"hi":1.22},{"series":"Historical","year":2014,"lo":0.95,"hi":1.35},
{"series":"SSP3-7.0","year":2015,"lo":1.05,"hi":1.2},{"series":"SSP3-7.0","year":2020,"lo":1.15,"hi":1.45},{"series":"SSP3-7.0","year":2030,"lo":1.35,"hi":1.9},{"series":"SSP3-7.0","year":2040,"lo":1.6,"hi":2.3},{"series":"SSP3-7.0","year":2050,"lo":1.85,"hi":2.75},{"series":"SSP3-7.0","year":2060,"lo":2.1,"hi":3.2},{"series":"SSP3-7.0","year":2070,"lo":2.35,"hi":3.6},{"series":"SSP3-7.0","year":2080,"lo":2.6,"hi":4.05},{"series":"SSP3-7.0","year":2090,"lo":2.85,"hi":4.5},{"series":"SSP3-7.0","year":2100,"lo":3.08,"hi":4.99},
{"series":"SSP1-2.6","year":2015,"lo":1.05,"hi":1.2},{"series":"SSP1-2.6","year":2020,"lo":1.15,"hi":1.42},{"series":"SSP1-2.6","year":2030,"lo":1.3,"hi":1.78},{"series":"SSP1-2.6","year":2040,"lo":1.38,"hi":2.08},{"series":"SSP1-2.6","year":2050,"lo":1.4,"hi":2.3},{"series":"SSP1-2.6","year":2055,"lo":1.4,"hi":2.34},{"series":"SSP1-2.6","year":2060,"lo":1.4,"hi":2.34},{"series":"SSP1-2.6","year":2070,"lo":1.4,"hi":2.34},{"series":"SSP1-2.6","year":2080,"lo":1.38,"hi":2.34},{"series":"SSP1-2.6","year":2090,"lo":1.35,"hi":2.34},{"series":"SSP1-2.6","year":2100,"lo":1.3,"hi":2.34}
],
"c_lines": [
{"series":"Historical","year":1950,"value":0.3},{"series":"Historical","year":1952,"value":0.3},{"series":"Historical","year":1954,"value":0.28},{"series":"Historical","year":1956,"value":0.3},{"series":"Historical","year":1958,"value":0.3},{"series":"Historical","year":1962,"value":0.3},{"series":"Historical","year":1963,"value":0.27},{"series":"Historical","year":1964,"value":0.12},{"series":"Historical","year":1965,"value":0.1},{"series":"Historical","year":1966,"value":0.15},{"series":"Historical","year":1968,"value":0.17},{"series":"Historical","year":1970,"value":0.22},{"series":"Historical","year":1972,"value":0.25},{"series":"Historical","year":1974,"value":0.23},{"series":"Historical","year":1976,"value":0.27},{"series":"Historical","year":1978,"value":0.27},{"series":"Historical","year":1980,"value":0.33},{"series":"Historical","year":1982,"value":0.42},{"series":"Historical","year":1983,"value":0.38},{"series":"Historical","year":1984,"value":0.28},{"series":"Historical","year":1986,"value":0.38},{"series":"Historical","year":1988,"value":0.46},{"series":"Historical","year":1990,"value":0.56},{"series":"Historical","year":1991,"value":0.62},{"series":"Historical","year":1992,"value":0.33},{"series":"Historical","year":1993,"value":0.42},{"series":"Historical","year":1995,"value":0.5},{"series":"Historical","year":1997,"value":0.58},{"series":"Historical","year":1999,"value":0.68},{"series":"Historical","year":2000,"value":0.72},{"series":"Historical","year":2002,"value":0.82},{"series":"Historical","year":2003,"value":0.9},{"series":"Historical","year":2006,"value":0.93},{"series":"Historical","year":2008,"value":0.97},{"series":"Historical","year":2010,"value":1.03},{"series":"Historical","year":2012,"value":1.08},{"series":"Historical","year":2013,"value":1.1},{"series":"Historical","year":2014,"value":1.14},
{"series":"SSP1-1.9","year":2015,"value":1.13},{"series":"SSP1-1.9","year":2020,"value":1.27},{"series":"SSP1-1.9","year":2030,"value":1.5},{"series":"SSP1-1.9","year":2035,"value":1.57},{"series":"SSP1-1.9","year":2040,"value":1.6},{"series":"SSP1-1.9","year":2050,"value":1.59},{"series":"SSP1-1.9","year":2060,"value":1.56},{"series":"SSP1-1.9","year":2070,"value":1.52},{"series":"SSP1-1.9","year":2080,"value":1.48},{"series":"SSP1-1.9","year":2090,"value":1.44},{"series":"SSP1-1.9","year":2100,"value":1.4},
{"series":"SSP1-2.6","year":2015,"value":1.13},{"series":"SSP1-2.6","year":2020,"value":1.27},{"series":"SSP1-2.6","year":2030,"value":1.5},{"series":"SSP1-2.6","year":2040,"value":1.66},{"series":"SSP1-2.6","year":2050,"value":1.75},{"series":"SSP1-2.6","year":2060,"value":1.8},{"series":"SSP1-2.6","year":2070,"value":1.82},{"series":"SSP1-2.6","year":2080,"value":1.82},{"series":"SSP1-2.6","year":2085,"value":1.8},{"series":"SSP1-2.6","year":2090,"value":1.78},{"series":"SSP1-2.6","year":2100,"value":1.75},
{"series":"SSP2-4.5","year":2015,"value":1.13},{"series":"SSP2-4.5","year":2020,"value":1.28},{"series":"SSP2-4.5","year":2030,"value":1.55},{"series":"SSP2-4.5","year":2040,"value":1.83},{"series":"SSP2-4.5","year":2050,"value":2.07},{"series":"SSP2-4.5","year":2060,"value":2.29},{"series":"SSP2-4.5","year":2070,"value":2.46},{"series":"SSP2-4.5","year":2080,"value":2.6},{"series":"SSP2-4.5","year":2090,"value":2.71},{"series":"SSP2-4.5","year":2100,"value":2.79},
{"series":"SSP3-7.0","year":2015,"value":1.13},{"series":"SSP3-7.0","year":2020,"value":1.28},{"series":"SSP3-7.0","year":2030,"value":1.6},{"series":"SSP3-7.0","year":2040,"value":1.95},{"series":"SSP3-7.0","year":2050,"value":2.3},{"series":"SSP3-7.0","year":2060,"value":2.66},{"series":"SSP3-7.0","year":2070,"value":3.01},{"series":"SSP3-7.0","year":2080,"value":3.33},{"series":"SSP3-7.0","year":2090,"value":3.64},{"series":"SSP3-7.0","year":2100,"value":3.94},
{"series":"SSP5-8.5","year":2015,"value":1.13},{"series":"SSP5-8.5","year":2020,"value":1.3},{"series":"SSP5-8.5","year":2030,"value":1.7},{"series":"SSP5-8.5","year":2040,"value":2.12},{"series":"SSP5-8.5","year":2050,"value":2.58},{"series":"SSP5-8.5","year":2060,"value":3.05},{"series":"SSP5-8.5","year":2070,"value":3.51},{"series":"SSP5-8.5","year":2080,"value":3.96},{"series":"SSP5-8.5","year":2090,"value":4.38},{"series":"SSP5-8.5","year":2100,"value":4.77}
]
},
"vconcat": [
{
"resolve": {"scale": {"fill": "independent", "stroke": "independent", "color": "independent"}},
"hconcat": [
{
"width": 442, "height": 443,
"view": {"stroke": "#6e6e6e", "strokeWidth": 1.5},
"resolve": {"axis": {"x": "independent", "y": "independent"}},
"layer": [
{"data": {"name": "a_bands"}, "mark": {"type": "area", "fillOpacity": 0.55},
"encoding": {
"x": {"field": "year", "type": "quantitative", "scale": {"domain": [1900, 2100], "nice": false, "zero": false},
"axis": {"orient": "bottom", "values": [1900,1910,1920,1930,1940,1950,1960,1970,1980,1990,2000,2010,2020,2030,2040,2050,2060,2070,2080,2090,2100], "labelExpr": "datum.value % 50 === 0 ? '' + datum.value : ''", "title": "Year", "grid": false, "domain": false, "tickColor": "#555", "tickWidth": 1.5, "tickSize": 6, "labelFontSize": 20, "labelColor": "#66615c", "labelPadding": 12, "labelFlush": false, "titleFontSize": 17, "titleFontWeight": "normal", "titleColor": "#84766c", "titlePadding": 13}},
"y": {"field": "lo", "type": "quantitative", "scale": {"domain": [-1.5, 5.5], "nice": false, "zero": false},
"axis": {"orient": "left", "values": [-1.5,-1,-0.5,0,0.5,1,1.5,2,2.5,3,3.5,4,4.5,5,5.5], "labelExpr": "datum.value % 1 === 0 ? (datum.value < 0 ? '-' + abs(datum.value) : '' + datum.value) : ''", "tickSize": {"condition": {"test": "datum.value % 1 === 0", "value": 8}, "value": 5}, "tickColor": "#555", "tickWidth": 1.5, "domain": false, "grid": false, "labelFontSize": 20, "labelColor": "#66615c", "labelPadding": 9, "labelFlush": false, "title": "Global surface warming (°C)", "titleFontSize": 17, "titleFontWeight": "normal", "titleColor": "#84766c", "titlePadding": 10}},
"y2": {"field": "hi"},
"fill": {"field": "series", "type": "nominal", "scale": {"domain": ["Historical (24)", "SRES B1 (20)", "SRES A2 (19)", "SRES A1B (24)"], "range": ["#8a8a8a", "#5cc6f0", "#ef8466", "#f7a858"]}, "legend": null}
}},
{"data": {"values": [{}]}, "mark": {"type": "rule", "color": "#6a6a6a", "strokeWidth": 1.5}, "encoding": {"x": {"datum": 2005, "axis": null}}},
{"data": {"name": "a_lines"}, "mark": {"type": "line", "strokeWidth": 2},
"encoding": {
"x": {"field": "year", "type": "quantitative", "axis": {"orient": "top", "domain": false, "ticks": false, "labels": false, "grid": false, "title": "CMIP3 models, SRES scenarios", "titleFontSize": 19, "titleFontWeight": "normal", "titleColor": "#5a5a5a", "titlePadding": 8}},
"y": {"field": "value", "type": "quantitative", "axis": {"orient": "right", "values": [-1.5,-1,-0.5,0,0.5,1,1.5,2,2.5,3,3.5,4,4.5,5,5.5], "labels": false, "title": null, "domain": false, "grid": false, "tickSize": {"condition": {"test": "datum.value % 1 === 0", "value": 9}, "value": 5}, "tickColor": "#555", "tickWidth": 1.5}},
"color": {"field": "series", "type": "nominal", "scale": {"domain": ["Historical (24)", "SRES B1 (20)", "SRES A1B (24)", "SRES A2 (19)"], "range": ["#333333", "#2fb8ea", "#f39a2d", "#e8262a"]},
"legend": {"orient": "none", "legendX": 23, "legendY": 23, "title": null, "symbolType": "stroke", "symbolSize": 484, "symbolStrokeWidth": 2.5, "labelFontSize": 19, "labelColor": "#5a5a5a", "labelFont": "Open Sans", "rowPadding": 0.5, "labelOffset": 14, "padding": 0}}
}},
{"data": {"values": [{}]}, "mark": {"type": "text", "text": "a)", "fontSize": 24, "align": "left", "baseline": "middle", "color": "#222"}, "encoding": {"x": {"datum": 1923, "axis": null}, "y": {"datum": 5.76, "axis": null}}}
]
},
{
"width": 442, "height": 443,
"view": {"stroke": "#6e6e6e", "strokeWidth": 1.5},
"resolve": {"axis": {"x": "independent", "y": "independent"}},
"layer": [
{"data": {"name": "b_bands"}, "mark": {"type": "area", "fillOpacity": 0.55},
"encoding": {
"x": {"field": "year", "type": "quantitative", "scale": {"domain": [1900, 2100], "nice": false, "zero": false},
"axis": {"orient": "bottom", "values": [1900,1910,1920,1930,1940,1950,1960,1970,1980,1990,2000,2010,2020,2030,2040,2050,2060,2070,2080,2090,2100], "labelExpr": "datum.value % 50 === 0 ? '' + datum.value : ''", "title": "Year", "grid": false, "domain": false, "tickColor": "#555", "tickWidth": 1.5, "tickSize": 6, "labelFontSize": 20, "labelColor": "#66615c", "labelPadding": 12, "labelFlush": false, "titleFontSize": 17, "titleFontWeight": "normal", "titleColor": "#84766c", "titlePadding": 13}},
"y": {"field": "lo", "type": "quantitative", "scale": {"domain": [-1.5, 5.5], "nice": false, "zero": false},
"axis": {"orient": "left", "values": [-1.5,-1,-0.5,0,0.5,1,1.5,2,2.5,3,3.5,4,4.5,5,5.5], "labelExpr": "datum.value % 1 === 0 ? (datum.value < 0 ? '-' + abs(datum.value) : '' + datum.value) : ''", "tickSize": {"condition": {"test": "datum.value % 1 === 0", "value": 8}, "value": 5}, "tickColor": "#555", "tickWidth": 1.5, "domain": false, "grid": false, "labelFontSize": 20, "labelColor": "#66615c", "labelPadding": 9, "labelFlush": false, "title": "Global surface warming (°C)", "titleFontSize": 17, "titleFontWeight": "normal", "titleColor": "#84766c", "titlePadding": 10}},
"y2": {"field": "hi"},
"fill": {"field": "series", "type": "nominal", "scale": {"domain": ["Historical (42)", "RCP 8.5 (30)", "RCP 6.0 (17)", "RCP 4.5 (32)", "RCP 2.6 (26)"], "range": ["#8a8a8a", "#ef8466", "#f7a858", "#5cc6f0", "#5a8ad0"]}, "legend": null}
}},
{"data": {"values": [{}]}, "mark": {"type": "rule", "color": "#6a6a6a", "strokeWidth": 1.5}, "encoding": {"x": {"datum": 2005, "axis": null}}},
{"data": {"name": "b_lines"}, "mark": {"type": "line", "strokeWidth": 2},
"encoding": {
"x": {"field": "year", "type": "quantitative", "axis": {"orient": "top", "domain": false, "ticks": false, "labels": false, "grid": false, "title": "CMIP5 models, RCP scenarios", "titleFontSize": 19, "titleFontWeight": "normal", "titleColor": "#5a5a5a", "titlePadding": 8}},
"y": {"field": "value", "type": "quantitative", "axis": {"orient": "right", "values": [-1.5,-1,-0.5,0,0.5,1,1.5,2,2.5,3,3.5,4,4.5,5,5.5], "labels": false, "title": null, "domain": false, "grid": false, "tickSize": {"condition": {"test": "datum.value % 1 === 0", "value": 9}, "value": 5}, "tickColor": "#555", "tickWidth": 1.5}},
"stroke": {"field": "series", "type": "nominal", "scale": {"domain": ["Historical (42)", "RCP 2.6 (26)", "RCP 4.5 (32)", "RCP 6.0 (17)", "RCP 8.5 (30)"], "range": ["#333333", "#1f66b0", "#2fb8ea", "#f39a2d", "#e8262a"]},
"legend": {"orient": "none", "legendX": 28, "legendY": 26, "title": null, "symbolType": "stroke", "symbolSize": 484, "symbolStrokeWidth": 2.5, "labelFontSize": 19, "labelColor": "#5a5a5a", "labelFont": "Open Sans", "rowPadding": 0.5, "labelOffset": 14, "padding": 0}}
}},
{"data": {"values": [{}]}, "mark": {"type": "text", "text": "b)", "fontSize": 24, "align": "left", "baseline": "middle", "color": "#222"}, "encoding": {"x": {"datum": 1923, "axis": null}, "y": {"datum": 5.76, "axis": null}}}
]
}
],
"spacing": 25
},
{
"width": 851, "height": 312,
"view": {"stroke": null},
"title": {"text": "Global surface temperature change relative to 1850-1900", "anchor": "start", "frame": "group", "font": "Lato", "fontSize": 27, "fontWeight": "normal", "color": "#111", "dx": -15, "offset": -19},
"layer": [
{"data": {"name": "c_bands"}, "mark": {"type": "area", "fillOpacity": 0.55},
"encoding": {
"x": {"field": "year", "type": "quantitative", "scale": {"domain": [1950, 2100], "nice": false, "zero": false},
"axis": {"values": [1950,1960,1970,1980,1990,2000,2010,2015,2020,2030,2040,2050,2060,2070,2080,2090,2100], "labelExpr": "indexof([1950,2000,2015,2050,2100], datum.value) >= 0 ? '' + datum.value : ''", "labelAlign": {"condition": {"test": "datum.value === 1950", "value": "left"}, "value": "center"}, "title": null, "domain": false, "grid": false, "tickColor": "#d6d6d6", "tickWidth": 1.5, "tickSize": 10, "labelFont": "Lato", "labelFontSize": 25, "labelColor": "#222", "labelPadding": 14, "labelFlush": false}},
"y": {"field": "lo", "type": "quantitative", "scale": {"domain": [-1, 5], "nice": false, "zero": false},
"axis": {"values": [-1,0,1,2,3,4,5], "labelExpr": "datum.value < 0 ? '-' + abs(datum.value) : '' + datum.value", "grid": true, "gridColor": "#dadada", "gridWidth": 2, "ticks": false, "domain": false, "labelFont": "Lato", "labelFontSize": 25, "labelColor": "#222", "labelPadding": 10, "title": "°C", "titleAngle": 0, "titleAlign": "right", "titleBaseline": "middle", "titleX": -10, "titleY": -37, "titleFont": "Lato", "titleFontSize": 24, "titleFontWeight": "normal", "titleColor": "#222"}},
"y2": {"field": "hi"},
"fill": {"field": "series", "type": "nominal", "scale": {"domain": ["Historical", "SSP3-7.0", "SSP1-2.6"], "range": ["#cfcfcf", "#f0aab6", "#b4bfd1"]}, "legend": null}
}},
{"data": {"name": "c_lines"}, "mark": {"type": "line", "strokeWidth": 2},
"encoding": {
"x": {"field": "year", "type": "quantitative"},
"y": {"field": "value", "type": "quantitative"},
"stroke": {"field": "series", "type": "nominal", "scale": {"domain": ["Historical", "SSP1-1.9", "SSP1-2.6", "SSP2-4.5", "SSP3-7.0", "SSP5-8.5"], "range": ["#222222", "#2ab0d8", "#2b3f6c", "#f0a040", "#e3314a", "#9b2438"]}, "legend": null}
}},
{"data": {"name": "c_lines"}, "transform": [{"filter": "datum.year === 2100 && datum.series !== 'Historical'"}],
"mark": {"type": "text", "align": "left", "baseline": "middle", "dx": 9, "dy": {"expr": "datum.series === 'SSP1-1.9' ? 4 : (datum.series === 'SSP1-2.6' ? -3 : 0)"}, "font": "Lato", "fontSize": 20},
"encoding": {
"x": {"field": "year", "type": "quantitative"},
"y": {"field": "value", "type": "quantitative"},
"text": {"field": "series"},
"color": {"field": "series", "type": "nominal", "scale": {"domain": ["SSP1-1.9", "SSP1-2.6", "SSP2-4.5", "SSP3-7.0", "SSP5-8.5"], "range": ["#2ab0d8", "#2b3f6c", "#f0a040", "#e3314a", "#9b2438"]}, "legend": null}
}},
{"data": {"values": [{}]}, "mark": {"type": "text", "text": "c)", "align": "left", "baseline": "middle", "font": "Lato", "fontSize": 19, "color": "#333"}, "encoding": {"x": {"datum": 1941.2}, "y": {"datum": 6.6}}},
{"data": {"values": [{}]}, "mark": {"type": "rule", "opacity": 0, "strokeWidth": 1}, "encoding": {"x": {"datum": 2121.5}}}
]
}
],
"spacing": 21,
"center": true
}
